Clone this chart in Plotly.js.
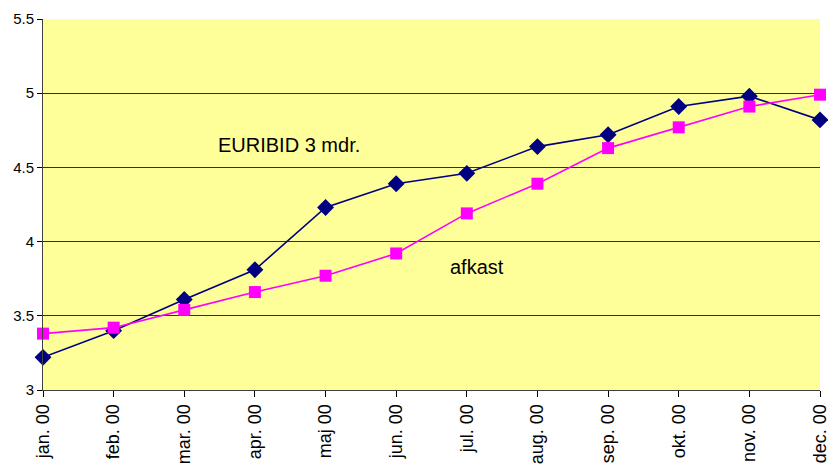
<!DOCTYPE html>
<html>
<head>
<meta charset="utf-8">
<script src="https://cdn.plot.ly/plotly-3.0.1.min.js"></script>
<style>html,body{margin:0;padding:0;background:#fff;}#chart{width:828px;height:475px;}</style>
</head>
<body>
<div id="chart"></div>
<script>
const months = ["jan. 00","feb. 00","mar. 00","apr. 00","maj 00","jun. 00","jul. 00","aug. 00","sep. 00","okt. 00","nov. 00","dec. 00"];
const euribid = [3.22,3.40,3.61,3.81,4.23,4.39,4.46,4.64,4.72,4.91,4.98,4.82];
const afkast = [3.38,3.42,3.54,3.66,3.77,3.92,4.19,4.39,4.63,4.77,4.91,4.99];
const yTicks = [3,3.5,4,4.5,5,5.5];
const yTickText = ["3","3.5","4","4.5","5","5.5"];

const traces = [
  {x: months, y: euribid, type: "scatter", mode: "lines+markers", name: "EURIBID 3 mdr.",
   line: {color: "#000080", width: 1.6}, marker: {symbol: "diamond", size: 13, color: "#000080"}, cliponaxis: false},
  {x: months, y: afkast, type: "scatter", mode: "lines+markers", name: "afkast",
   line: {color: "#FF00FF", width: 1.6}, marker: {symbol: "square", size: 12, color: "#FF00FF"}, cliponaxis: false}
];

const layout = {
  width: 828, height: 475,
  margin: {l: 43, r: 8, t: 19, b: 85},
  paper_bgcolor: "#ffffff",
  plot_bgcolor: "#FFFF99",
  showlegend: false,
  font: {family: "Liberation Sans, Arial, sans-serif", color: "#000"},
  xaxis: {
    type: "category", range: [0, 11], tickangle: -90,
    tickfont: {size: 18}, ticks: "outside", ticklen: 6, tickcolor: "#000",
    showline: true, linecolor: "#404040", linewidth: 1, showgrid: false, zeroline: false
  },
  yaxis: {
    range: [3, 5.5], tickvals: yTicks, ticktext: yTickText,
    tickfont: {size: 15}, ticks: "outside", ticklen: 5, tickcolor: "#000",
    showline: true, linecolor: "#404040", linewidth: 1,
    showgrid: true, gridcolor: "#303030", gridwidth: 1, zeroline: false
  },
  annotations: [
    {text: "EURIBID 3 mdr.", x: 3.48, y: 4.65, xref: "x", yref: "y", showarrow: false, xanchor: "center", font: {size: 20}},
    {text: "afkast", x: 6.14, y: 3.83, xref: "x", yref: "y", showarrow: false, xanchor: "center", font: {size: 20}}
  ]
};

Plotly.newPlot("chart", traces, layout, {displayModeBar: false, staticPlot: true});
</script>
</body>
</html>
